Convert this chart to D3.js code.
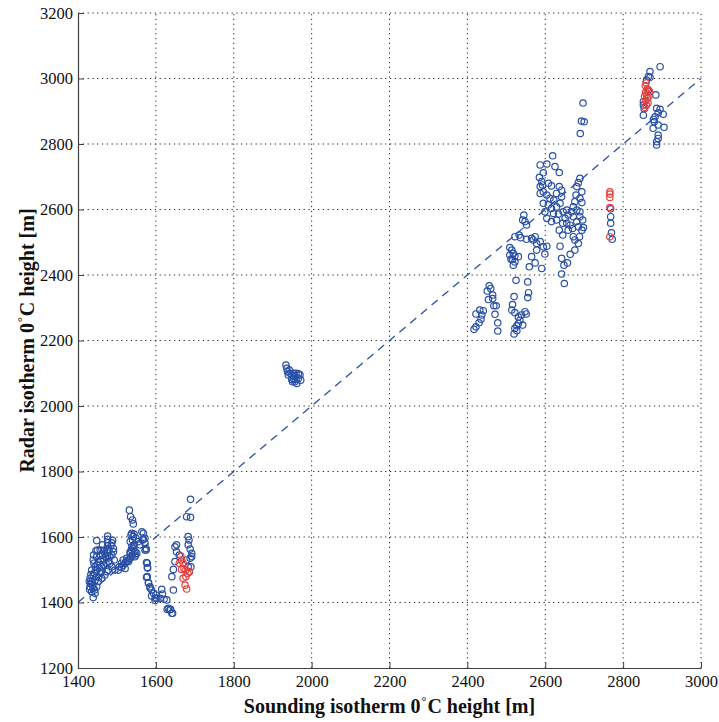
<!DOCTYPE html>
<html>
<head>
<meta charset="utf-8">
<script src="https://cdn.jsdelivr.net/npm/d3@7/dist/d3.min.js"></script>
<style>
  html, body { margin: 0; padding: 0; background: #fff; }
  svg { display: block; }
  svg text { font-family: "Liberation Serif", "Times New Roman", serif !important; fill: #111; }
</style>
</head>
<body>
<svg id="chart" width="719" height="722"></svg>
<script>
// Axis ranges and tick values
const xDomain = [1400, 3000];
const yDomain = [1200, 3200];
const xTicks = [1400, 1600, 1800, 2000, 2200, 2400, 2600, 2800, 3000];
const yTicks = [1200, 1400, 1600, 1800, 2000, 2200, 2400, 2600, 2800, 3000, 3200];

// 1:1 reference line
const refLine = [[1400, 1400], [3000, 3000]];

// Sounding vs radar isotherm heights [m], low-freezing-level days
const blueLow = [
  [1476,1603],[1476,1593],[1476,1583],[1476,1573],[1476,1562],[1476,1552],[1476,1542],
  [1448,1589],[1463,1576],[1457,1560],[1446,1558],[1469,1550],[1482,1540],[1491,1555],
  [1493,1530],[1487,1509],[1478,1499],[1448,1540],[1439,1530],[1452,1525],[1465,1530],
  [1461,1509],[1444,1509],[1435,1499],[1448,1499],[1457,1489],[1469,1484],[1439,1484],
  [1431,1474],[1444,1469],[1452,1464],[1461,1474],[1435,1458],[1431,1448],[1439,1443],
  [1448,1448],[1435,1433],[1444,1428],[1439,1415],[1429,1464],[1474,1494],[1482,1520],
  [1478,1525],[1491,1565],[1450,1515],[1455,1505],[1460,1495],[1466,1515],[1470,1540],
  [1472,1520],[1480,1560],[1485,1575],[1468,1560],[1458,1545],[1442,1490],[1447,1478],
  [1436,1465],[1432,1458],[1438,1452],[1443,1438],[1453,1478],[1458,1530],[1463,1545],
  [1487,1545],[1489,1590],[1487,1582],[1430,1440],[1433,1485],[1441,1520],[1450,1560],
  [1440,1545],
  [1506,1509],[1512,1507],[1516,1514],[1521,1520],[1525,1525],[1529,1530],[1534,1535],
  [1536,1540],[1540,1545],[1534,1555],[1538,1560],[1542,1565],[1544,1576],[1538,1570],
  [1540,1591],[1536,1606],[1544,1609],[1549,1596],[1555,1586],[1551,1550],[1559,1576],
  [1564,1616],[1568,1593],[1572,1596],[1575,1565],[1572,1581],[1532,1682],[1535,1662],
  [1540,1652],[1542,1640],[1525,1535],[1512,1520],[1521,1504],[1495,1499],[1504,1499],
  [1534,1586],[1546,1540],[1534,1550],[1516,1530],[1530,1525],[1548,1545],[1542,1572],
  [1546,1556],[1538,1611],[1542,1601],[1566,1591],[1572,1560],[1568,1611],
  [1576,1522],[1578,1507],[1576,1477],[1581,1461],[1585,1448],[1589,1438],[1594,1428],
  [1589,1420],[1600,1423],[1602,1413],[1615,1440],[1617,1426],[1611,1413],[1598,1406],
  [1621,1410],[1632,1382],[1638,1379],[1641,1367],[1645,1438],[1575,1560],[1578,1520],
  [1579,1505],[1578,1479],[1581,1459],[1585,1444],[1598,1413],[1628,1408],[1629,1379],
  [1636,1378],[1643,1367],
  [1641,1479],[1645,1501],[1649,1525],[1653,1555],[1649,1570],[1660,1545],[1653,1576],
  [1683,1601],[1685,1591],[1683,1576],[1688,1563],[1692,1550],[1688,1535],[1679,1530],
  [1683,1509],[1686,1494],[1679,1662],[1689,1660],[1689,1715],[1690,1509],[1692,1540]
];

const blueMid = [
  [1934,2125],[1936,2115],[1938,2105],[1943,2110],[1944,2100],[1949,2095],[1953,2100],
  [1960,2100],[1966,2098],[1970,2095],[1953,2084],[1960,2081],[1966,2084],[1957,2074],
  [1962,2069],[1951,2074],[1972,2079],[1949,2081],[1957,2092],[1940,2095]
];

const blueHigh = [
  [2456,2367],[2460,2359],[2451,2351],[2465,2339],[2454,2325],[2465,2328],[2468,2306],
  [2474,2306],[2432,2293],[2441,2291],[2422,2281],[2437,2278],[2471,2280],[2435,2265],
  [2430,2254],[2478,2254],[2422,2242],[2417,2234],[2478,2229],
  [2525,2384],[2555,2379],[2557,2346],[2555,2331],[2520,2334],[2516,2310],[2514,2293],
  [2522,2285],[2548,2288],[2551,2281],[2539,2278],[2531,2272],[2535,2262],[2531,2252],
  [2527,2245],[2522,2237],[2527,2230],[2520,2220],[2542,2247],
  [2509,2484],[2514,2476],[2518,2466],[2509,2461],[2522,2458],[2516,2448],[2522,2440],
  [2518,2430],[2531,2456],[2512,2448],
  [2522,2517],[2533,2522],[2537,2514],[2552,2509],[2565,2512],[2574,2517],[2569,2507],
  [2578,2496],[2587,2502],[2595,2486],[2604,2488],[2578,2476],[2565,2456],[2599,2464],
  [2559,2425],[2574,2437],[2591,2420],[2542,2568],[2545,2583],[2548,2563],[2552,2553],
  [2619,2764],[2587,2736],[2604,2739],[2625,2731],[2636,2713],[2595,2712],[2585,2698],
  [2591,2685],[2587,2670],[2593,2675],[2608,2680],[2616,2672],[2636,2670],[2642,2659],
  [2595,2654],[2604,2644],[2587,2649],[2629,2649],[2612,2634],[2642,2639],[2622,2629],
  [2638,2619],[2629,2608],[2616,2603],[2608,2614],[2595,2619],[2599,2593],[2621,2588],
  [2634,2586],[2646,2593],[2629,2568],[2616,2563],[2604,2573],[2645,2558],[2651,2573],
  [2659,2583],[2655,2558],[2664,2552],[2670,2542],[2681,2563],[2685,2547],[2694,2537],
  [2698,2545],[2688,2517],[2672,2517],[2676,2507],[2685,2496],[2645,2522],[2636,2537],
  [2638,2488],[2676,2476],[2664,2463],[2642,2451],[2648,2430],[2657,2437],[2642,2403],
  [2649,2374],[2689,2695],[2685,2682],[2681,2670],[2694,2654],[2679,2644],[2689,2634],
  [2676,2624],[2694,2621],[2672,2608],[2681,2598],[2689,2593],[2668,2593],[2655,2598],
  [2696,2568],[2689,2578],[2672,2578],[2659,2537],
  [2697,2925],[2693,2870],[2700,2868],[2690,2832],
  [2768,2602],[2768,2578],[2768,2558],[2770,2529],[2772,2509],
  [2895,3036],[2869,3021],[2865,3006],[2869,3004],[2860,2995],[2865,2965],[2852,2930],
  [2852,2919],[2854,2908],[2884,2950],[2852,2888],[2886,2909],[2895,2906],[2890,2895],
  [2903,2891],[2882,2883],[2878,2875],[2880,2868],[2890,2858],[2877,2848],[2905,2851],
  [2890,2827],[2890,2817],[2886,2807],[2886,2797]
];

// Flagged cases drawn in red
const redPoints = [
  [1664,1542],[1666,1530],[1670,1520],[1672,1504],[1677,1499],[1682,1489],[1677,1479],
  [1686,1494],[1675,1453],[1679,1441],[1670,1474],[1660,1520],[1666,1501],
  [2766,2654],[2766,2647],[2766,2637],[2766,2606],[2766,2517],
  [2859,2987],[2857,2978],[2862,2968],[2858,2958],[2860,2950],[2855,2945],[2862,2940],
  [2858,2932],[2864,2925],[2860,2918],[2856,2912],[2866,2945],[2868,2960]
];

const bluePoints = blueLow.concat(blueMid, blueHigh);

const margin = { left: 78, right: 18, top: 13, bottom: 54 };
const width = 719, height = 722;
const serif = '"Liberation Serif", "Times New Roman", serif';

const svg = d3.select("#chart");

const x = d3.scaleLinear().domain(xDomain).range([margin.left, width - margin.right]);
const y = d3.scaleLinear().domain(yDomain).range([height - margin.bottom, margin.top]);

const blue = "#2a50a6";
const red = "#e6403c";

// dotted grid
const grid = svg.append("g").attr("class", "grid");
grid.selectAll("line.v").data(xTicks.slice(1)).join("line")
  .attr("x1", d => x(d)).attr("x2", d => x(d))
  .attr("y1", y(yDomain[0])).attr("y2", y(yDomain[1]))
  .attr("stroke", "#222").attr("stroke-width", 1).attr("stroke-dasharray", "1.2,3.6");
grid.selectAll("line.h").data(yTicks.slice(1)).join("line")
  .attr("y1", d => y(d)).attr("y2", d => y(d))
  .attr("x1", x(xDomain[0])).attr("x2", x(xDomain[1]))
  .attr("stroke", "#222").attr("stroke-width", 1).attr("stroke-dasharray", "1.2,3.6");

// 1:1 line
svg.append("path")
  .attr("d", d3.line().x(d => x(d[0])).y(d => y(d[1]))(refLine))
  .attr("fill", "none").attr("stroke", blue).attr("stroke-width", 1.3)
  .attr("stroke-dasharray", "8,6");

// scatter points
const r = 3.2;
svg.append("g").selectAll("circle").data(bluePoints).join("circle")
  .attr("cx", d => x(d[0])).attr("cy", d => y(d[1])).attr("r", r)
  .attr("fill", "none").attr("stroke", blue).attr("stroke-width", 1.2);
svg.append("g").selectAll("circle").data(redPoints).join("circle")
  .attr("cx", d => x(d[0])).attr("cy", d => y(d[1])).attr("r", r)
  .attr("fill", "none").attr("stroke", red).attr("stroke-width", 1.2);

// axes with inward ticks
const xAxis = svg.append("g")
  .attr("transform", `translate(0,${y(yDomain[0])})`)
  .call(d3.axisBottom(x).tickValues(xTicks).tickSizeInner(-6).tickSizeOuter(0).tickPadding(10).tickFormat(d3.format("d")));
const yAxis = svg.append("g")
  .attr("transform", `translate(${x(xDomain[0])},0)`)
  .call(d3.axisLeft(y).tickValues(yTicks).tickSizeInner(-6).tickSizeOuter(0).tickPadding(5).tickFormat(d3.format("d")));

[xAxis, yAxis].forEach(a => {
  a.attr("font-family", serif).attr("font-size", 16.5);
  a.select(".domain").attr("stroke", "#404040").attr("stroke-width", 1.2);
  a.selectAll(".tick line").attr("stroke", "#404040");
  a.selectAll(".tick text").style("font-family", serif)
    .style("font-size", "16.5px").attr("fill", "#111");
});
xAxis.selectAll(".tick text").attr("dy", "0.55em");

// axis titles
function title(sel, label) {
  const t = sel.append("text").attr("text-anchor", "middle")
    .style("font-family", serif).style("font-size", "20px").style("font-weight", "bold");
  t.append("tspan").text(label[0]);
  t.append("tspan").text("°").style("font-size", "12px").attr("dy", "-0.7em").attr("dx", "1");
  t.append("tspan").text(label[1]).attr("dy", "0.42em").attr("dx", "1");
  return t;
}
title(svg.append("g").attr("transform", `translate(${(x(xDomain[0]) + x(xDomain[1])) / 2},713)`),
  ["Sounding isotherm 0", "C height [m]"]);
title(svg.append("g").attr("transform", `translate(34,${(y(yDomain[0]) + y(yDomain[1])) / 2}) rotate(-90)`),
  ["Radar isotherm 0", "C height [m]"]);
</script>
</body>
</html>
